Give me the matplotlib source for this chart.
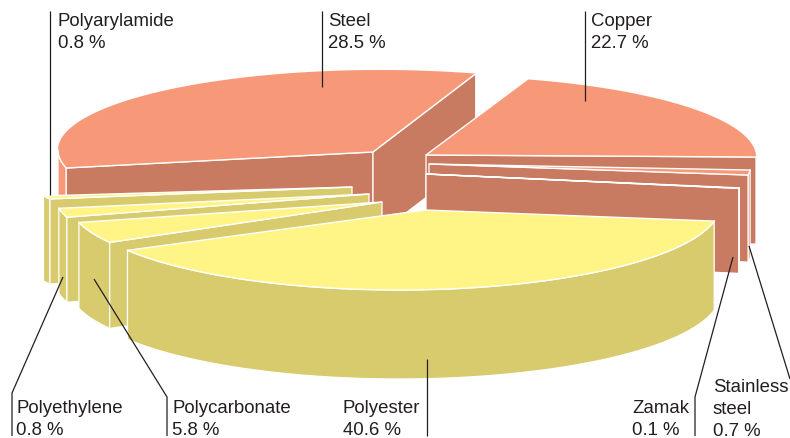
import numpy as np
import matplotlib
matplotlib.use("Agg")
import matplotlib.pyplot as plt

plt.rcParams['font.family'] = ['Liberation Sans', 'DejaVu Sans']

# pie data, clockwise from copper
materials = ['Copper', 'Stainless\nsteel', 'Zamak', 'Polyester', 'Polycarbonate',
             'Polyethylene', 'Polyarylamide', 'Steel']
shares = [22.7, 0.7, 0.1, 40.6, 5.8, 0.8, 0.8, 28.5]
groups = ['metal', 'metal', 'metal', 'plastic', 'plastic', 'plastic', 'plastic', 'metal']

# look of the exploded slices, everything in pixels
top_col = {'metal': '#F79879', 'plastic': '#FFF485'}
side_col = {'metal': '#C97B62', 'plastic': '#D8CB6E'}
start_angle = 17
layout = {
    # pivot, ellipse centre, rx, ry, depth, angle trim (start, end), cut faces
    'Copper': dict(p=(426, 156), c=(435, 158), rx=321, ry=81, d=87, trim=(-0.3, -8.7), faces='e'),
    'Stainless\nsteel': dict(p=(429, 165), c=(429, 165), rx=322, ry=82, d=87, trim=(-4.5, -3.5), faces='e'),
    'Zamak': dict(p=(426, 175), c=(426, 176), rx=317, ry=82, d=85, trim=(-2.2, -2.2), faces='e'),
    'Polyester': dict(p=(425, 211), c=(399, 206), rx=321, ry=85, d=89, trim=(-0.7, -10.0), faces=''),
    'Polycarbonate': dict(p=(382, 203), c=(382, 203), rx=313, ry=82, d=86, trim=(-7.3, -13.1), faces='s'),
    'Polyethylene': dict(p=(369, 195), c=(369, 195), rx=315, ry=82, d=85, trim=(-15.1, -11.6), faces='s'),
    'Polyarylamide': dict(p=(352, 188), c=(352, 188), rx=316.5, ry=40, d=85, trim=(-18.9, -17.3), faces='s'),
    'Steel': dict(p=(373, 153), c=(380, 151), rx=322, ry=80, d=86, trim=(-17.4, 0.3), faces='se', rim='#F79879'),
}
draw_order = ['Steel', 'Copper', 'Stainless\nsteel', 'Zamak', 'Polyarylamide',
              'Polyethylene', 'Polycarbonate', 'Polyester']

# label text position (left, first baseline) and leader line
label_pos = {
    'Polyarylamide': (57.5, 26), 'Steel': (328, 26), 'Copper': (591, 26),
    'Polyethylene': (16, 413), 'Polycarbonate': (172.5, 413), 'Polyester': (343, 413),
    'Zamak': (632, 413), 'Stainless\nsteel': (713, 392),
}
leaders = {
    'Polyarylamide': [(50, 12), (50, 196)], 'Steel': [(322, 12), (322, 88)],
    'Copper': [(585, 12), (585, 102)], 'Polyester': [(427, 360), (427, 437)],
    'Zamak': [(733, 258), (695, 398), (695, 437)],
    'Stainless\nsteel': [(749, 247), (790, 380)],
    'Polyethylene': [(63, 278), (12, 394), (12, 437)],
    'Polycarbonate': [(94, 280), (167, 398), (167, 437)],
}

fig = plt.figure(figsize=(7.9, 4.39), dpi=100)
ax = fig.add_axes([0, 0, 1, 1])
ax.set_xlim(0, 790)
ax.set_ylim(439, 0)
ax.axis('off')


def arc(s, t0, t1, n=80):
    th = np.radians(np.linspace(t0, t1, n))
    return np.column_stack([s['c'][0] + s['rx'] * np.sin(th), s['c'][1] - s['ry'] * np.cos(th)])


edges = np.cumsum([0] + shares) * 3.6 + start_angle
for name in draw_order:
    i = materials.index(name)
    s = layout[name]
    t0 = edges[i] + s['trim'][0]
    t1 = edges[i + 1] + s['trim'][1]
    top, side = top_col[groups[i]], side_col[groups[i]]
    down = np.array([0, s['d']])
    pts = arc(s, t0, t1)
    piv = np.array(s['p'], dtype=float)
    z = 1 + draw_order.index(name) * 3

    # outer rim, only the part turned to the viewer
    f0, f1 = max(t0, 90), min(t1, 270)
    if f1 > f0:
        front = arc(s, f0, f1)
        rim = np.vstack([front, front[::-1] + down])
        ax.fill(rim[:, 0], rim[:, 1], fc=s.get('rim', side), ec='white', lw=0.9, zorder=z)

    # cut faces
    for key, end in (('s', pts[0]), ('e', pts[-1])):
        if key in s['faces']:
            q = np.array([piv, end, end + down, piv + down])
            ax.fill(q[:, 0], q[:, 1], fc=side, ec='white', lw=0.9, zorder=z)

    # top of the slice
    poly = np.vstack([piv, pts])
    ax.fill(poly[:, 0], poly[:, 1], fc=top, ec='none', zorder=z + 1)
    ax.plot([pts[0][0], piv[0], pts[-1][0]], [pts[0][1], piv[1], pts[-1][1]], color='white', lw=1.0, zorder=z + 2)
    if f1 > f0:
        ax.plot(front[:, 0], front[:, 1], color='white', lw=1.0, zorder=z + 2)

for name, share in zip(materials, shares):
    x, y = label_pos[name]
    lines = name.split('\n') + [f'{share} %']
    for k, line in enumerate(lines):
        ax.text(x, y + k * 22, line, fontsize=13.4, color='#231F20', va='baseline', ha='left', zorder=50)
    xy = np.array(leaders[name])
    ax.plot(xy[:, 0], xy[:, 1], color='#231F20', lw=0.9, zorder=40, solid_capstyle='butt', solid_joinstyle='miter')

fig.savefig('out.png', dpi=100)
